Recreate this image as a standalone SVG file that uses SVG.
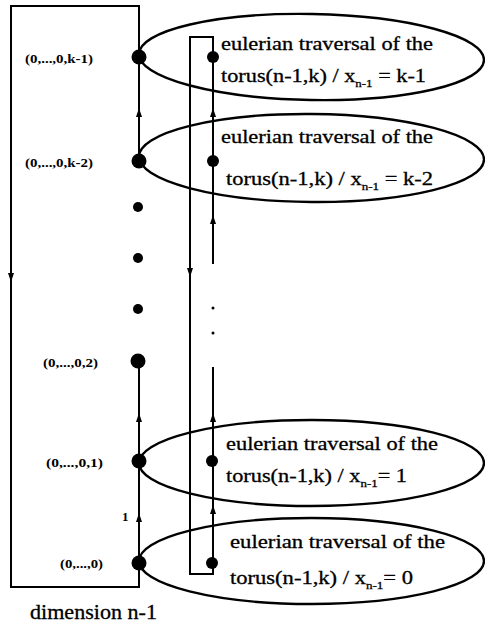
<svg xmlns="http://www.w3.org/2000/svg" width="485" height="625" viewBox="0 0 485 625">
<style>
.ln{fill:none;stroke:#000;stroke-width:2}
.el{fill:none;stroke:#000;stroke-width:2.4}
.t{font-family:"Liberation Serif","Times New Roman",serif;font-size:19px;fill:#000;stroke:#000;stroke-width:0.3}
.lb{font-family:"Liberation Serif","Times New Roman",serif;font-size:13px;font-weight:bold;fill:#000}
.sub{font-size:11px}
.dot{fill:#000}
</style>
<defs>
<path id="au" d="M0,-5 L-3,4 L3,4 Z" fill="#000"/>
<path id="ad" d="M0,5 L-3,-4 L3,-4 Z" fill="#000"/>
</defs>
<g id="connectors">
<path class="ln" d="M139,57 V6 H11 V587 H139 V563"/>
<use href="#ad" x="11" y="277"/>
<path class="ln" d="M139,563 V461 M139,461 V361 M139,161 V57"/>
<use href="#au" x="139" y="518"/>
<use href="#au" x="139" y="418"/>
<use href="#au" x="139" y="113"/>
<path class="ln" d="M213,57 V37 H190 V574 H213 V563"/>
<use href="#ad" x="190" y="272"/>
<path class="ln" d="M213,563 V461 M213,461 V367 M213,264 V161 M213,161 V57"/>
<use href="#au" x="213" y="510"/>
<use href="#au" x="213" y="418"/>
<use href="#au" x="213" y="220"/>
<use href="#au" x="213" y="113"/>
<circle class="dot" cx="213" cy="308" r="1.5"/>
<circle class="dot" cx="213" cy="333" r="1.5"/>
<text class="lb" x="122" y="521">1</text>
</g>
<g id="torus-k-1">
<ellipse class="el" cx="311.5" cy="57" rx="172.5" ry="43" transform="rotate(1 311.5 57)"/>
<text class="t" x="221" y="50" textLength="212" lengthAdjust="spacingAndGlyphs">eulerian traversal of the</text>
<text class="t" x="221" y="82" textLength="205" lengthAdjust="spacingAndGlyphs">torus(n-1,k) / x<tspan class="sub" dy="5">n-1</tspan><tspan dy="-5"> = k-1</tspan></text>
</g>
<g id="torus-k-2">
<ellipse class="el" cx="311.5" cy="158" rx="172.5" ry="44" transform="rotate(0.5 311.5 158)"/>
<text class="t" x="221" y="143" textLength="212" lengthAdjust="spacingAndGlyphs">eulerian traversal of the</text>
<text class="t" x="226" y="185" textLength="207" lengthAdjust="spacingAndGlyphs">torus(n-1,k) / x<tspan class="sub" dy="5">n-1</tspan><tspan dy="-5"> = k-2</tspan></text>
</g>
<g id="torus-1">
<ellipse class="el" cx="311.5" cy="463" rx="172.5" ry="43"/>
<text class="t" x="226" y="450" textLength="212" lengthAdjust="spacingAndGlyphs">eulerian traversal of the</text>
<text class="t" x="226" y="482" textLength="181" lengthAdjust="spacingAndGlyphs">torus(n-1,k) / x<tspan class="sub" dy="5">n-1</tspan><tspan dy="-5">= 1</tspan></text>
</g>
<g id="torus-0">
<ellipse class="el" cx="311.5" cy="561" rx="172.5" ry="43"/>
<text class="t" x="230" y="548" textLength="215" lengthAdjust="spacingAndGlyphs">eulerian traversal of the</text>
<text class="t" x="230" y="584" textLength="183" lengthAdjust="spacingAndGlyphs">torus(n-1,k) / x<tspan class="sub" dy="5">n-1</tspan><tspan dy="-5">= 0</tspan></text>
</g>
<g id="v-k-1"><circle class="dot" cx="139" cy="57" r="7.5"/><text class="lb" x="25" y="63" textLength="68" lengthAdjust="spacingAndGlyphs">(0,...,0,k-1)</text></g>
<g id="v-k-2"><circle class="dot" cx="139" cy="161" r="7.5"/><text class="lb" x="25" y="167" textLength="68" lengthAdjust="spacingAndGlyphs">(0,...,0,k-2)</text></g>
<g id="v-dots"><circle class="dot" cx="138" cy="207" r="5"/><circle class="dot" cx="138" cy="258" r="5"/><circle class="dot" cx="138" cy="309" r="5"/></g>
<g id="v-2"><circle class="dot" cx="138" cy="361" r="7.5"/><text class="lb" x="43" y="367" textLength="55" lengthAdjust="spacingAndGlyphs">(0,...,0,2)</text></g>
<g id="v-1"><circle class="dot" cx="139" cy="461" r="7.5"/><text class="lb" x="46" y="467" textLength="57" lengthAdjust="spacingAndGlyphs">(0,...,0,1)</text></g>
<g id="v-0"><circle class="dot" cx="139" cy="563" r="7.5"/><text class="lb" x="60" y="568" textLength="43" lengthAdjust="spacingAndGlyphs">(0,...,0)</text></g>
<g id="w-k-1"><circle class="dot" cx="213" cy="57" r="6"/></g>
<g id="w-k-2"><circle class="dot" cx="213" cy="161" r="6"/></g>
<g id="w-1"><circle class="dot" cx="212" cy="461" r="6"/></g>
<g id="w-0"><circle class="dot" cx="212" cy="563" r="6"/></g>
<text x="30" y="619" font-family="Liberation Serif, Times New Roman, serif" font-size="20" stroke="#000" stroke-width="0.3" textLength="127" lengthAdjust="spacingAndGlyphs">dimension n-1</text>
</svg>
